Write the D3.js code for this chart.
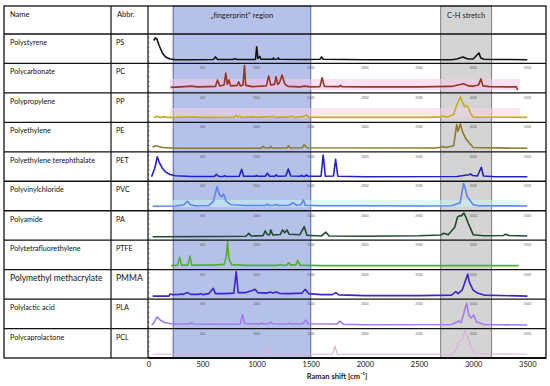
<!DOCTYPE html>
<html lang="en">
<head>
    <meta charset="UTF-8">
    <style>
        body {margin: 0; background: #ffffff;}
        text {font-family: Lato, "Open Sans", sans-serif;}
    </style>
</head>
<body>
<div id="chart"></div>

<script src="https://d3js.org/d3.v7.min.js"></script>
<script>

// table rows
var names = ["Polystyrene", "Polycarbonate", "Polypropylene", "Polyethylene",
    "Polyethylene terephthalate", "Polyvinylchloride", "Polyamide",
    "Polytetrafluorethylene", "Polymethyl methacrylate", "Polylactic acid", "Polycaprolactone"];
var abbrs = ["PS", "PC", "PP", "PE", "PET", "PVC", "PA", "PTFE", "PMMA", "PLA", "PCL"];
var colors = ["#111111", "#9a3324", "#c2ae1c", "#8c7a2c", "#2222c4", "#5a86ee",
    "#1f4a30", "#52ae2c", "#3d22d2", "#a07cf0", "#dcaedc"];

// spectra: [Raman shift, intensity 0-100]
var ps = [[50,80],[65,90],[80,86],[100,60],[130,30],[160,14],[200,6],[250,3],[400,3],[600,4],[620,14],[640,4],
    [780,4],[800,7],[820,4],[990,4],[1001,55],[1012,8],[1030,16],[1040,5],[1150,5],[1155,10],[1160,5],[1195,6],
    [1200,10],[1210,5],[1450,4],[1585,5],[1600,14],[1615,5],[2000,3],[2800,3],[2850,6],[2905,14],[2950,6],
    [3000,6],[3054,30],[3070,10],[3100,5],[3200,4],[3500,3]];
var pc = [[205,10],[300,12],[400,15],[450,12],[560,13],[620,14],[640,40],[660,16],[700,20],[715,67],[730,22],
    [745,40],[760,16],[820,18],[835,32],[850,16],[875,20],[888,97],[900,18],[960,13],[1090,16],[1112,56],
    [1130,20],[1165,22],[1180,53],[1195,22],[1210,28],[1235,60],[1260,24],[1290,14],[1400,12],[1440,15],
    [1500,12],[1585,13],[1605,49],[1625,14],[1760,13],[1775,18],[1790,13],[2000,12],[2500,12],[2800,14],
    [2880,22],[2910,25],[2960,16],[3000,15],[3050,20],[3072,44],[3090,16],[3150,13],[3400,12],[3410,0]];
var pp = [[50,8],[80,12],[110,7],[140,11],[170,8],[250,8],[400,10],[500,8],[790,9],[810,16],[830,10],[845,14],
    [860,8],[970,10],[1000,8],[1150,11],[1170,8],[1300,10],[1330,13],[1350,8],[1440,12],[1460,18],[1480,9],
    [1600,8],[2600,8],[2700,10],[2720,13],[2760,9],[2820,20],[2850,60],[2882,90],[2900,70],[2920,50],
    [2935,56],[2955,48],[2975,25],[3000,9],[3500,8]];
var pe = [[40,6],[60,12],[90,10],[130,5],[250,2],[1040,2],[1060,10],[1080,3],[1120,3],[1130,9],[1145,3],
    [1280,3],[1295,13],[1310,3],[1420,4],[1440,16],[1465,4],[2650,3],[2700,6],[2720,9],[2750,5],[2820,12],
    [2848,97],[2860,70],[2882,100],[2900,70],[2930,42],[2960,25],[3000,5],[3500,2]];
var pet = [[30,6],[60,40],[83,86],[100,65],[130,40],[160,25],[200,15],[250,10],[400,7],[610,7],[630,16],
    [650,7],[690,7],[705,10],[720,7],[840,8],[862,36],[880,8],[990,8],[1000,11],[1010,8],[1080,8],[1100,20],
    [1120,8],[1170,8],[1180,14],[1195,8],[1270,9],[1293,37],[1315,9],[1400,8],[1412,12],[1425,8],[1450,8],
    [1460,14],[1475,8],[1595,8],[1615,93],[1635,8],[1710,9],[1730,76],[1750,8],[2000,6],[2850,7],[2960,14],
    [2975,17],[2995,11],[3040,9],[3075,44],[3095,9],[3200,6],[3500,6]];
var pvc = [[40,6],[250,7],[330,12],[360,26],[390,12],[430,8],[560,9],[600,24],[635,84],[660,50],[680,44],
    [695,55],[720,25],[760,12],[900,9],[1080,9],[1100,14],[1120,9],[1160,10],[1180,13],[1200,9],[1300,10],
    [1335,20],[1370,10],[1410,12],[1432,31],[1450,10],[1600,8],[2000,8],[2500,7],[2800,8],[2880,20],
    [2900,70],[2912,97],[2925,80],[2945,45],[2970,30],[3000,12],[3050,8],[3500,7]];
var pa = [[40,2],[600,3],[900,4],[930,15],[950,5],[1060,6],[1080,25],[1100,10],[1120,10],[1130,29],[1150,9],
    [1220,11],[1240,29],[1260,18],[1280,29],[1300,12],[1400,10],[1440,42],[1465,8],[1600,5],[1640,20],
    [1670,5],[2000,4],[2500,6],[2700,9],[2730,16],[2770,10],[2830,40],[2855,80],[2875,86],[2890,85],
    [2915,96],[2935,78],[2960,50],[3000,10],[3100,6],[3280,7],[3300,12],[3330,7],[3500,5]];
var ptfe = [[210,4],[270,6],[290,37],[305,6],[365,6],[385,42],[400,6],[600,6],[700,9],[720,40],[732,100],
    [745,30],[770,8],[900,5],[1200,5],[1215,9],[1230,5],[1280,6],[1295,16],[1315,6],[1365,8],[1380,26],
    [1400,6],[1600,4],[3420,4]];
var pmma = [[40,0],[190,0],[200,8],[220,6],[290,7],[300,9],[320,6],[350,12],[365,14],[390,7],[470,7],[485,10],
    [500,6],[560,10],[600,31],[620,10],[700,10],[790,12],[812,98],[830,14],[900,14],[960,22],[985,27],
    [1010,14],[1100,12],[1125,16],[1150,12],[1180,16],[1210,11],[1300,10],[1420,12],[1450,27],[1480,10],
    [1600,6],[1700,6],[1730,14],[1760,5],[2000,2],[2500,2],[2800,4],[2840,18],[2860,10],[2900,25],[2950,88],
    [2965,55],[3000,24],[3040,12],[3100,4],[3500,0]];
var pla = [[30,2],[50,10],[80,35],[110,22],[150,12],[200,8],[250,6],[380,6],[400,12],[420,6],[700,5],[850,6],
    [870,45],[890,8],[1030,6],[1045,10],[1060,6],[1110,7],[1130,14],[1150,7],[1280,6],[1300,9],[1320,6],
    [1430,8],[1455,22],[1475,7],[1740,6],[1770,18],[1800,5],[2000,3],[2800,4],[2870,18],[2890,12],[2940,90],
    [2960,40],[2980,30],[3005,42],[3030,15],[3100,4],[3500,2]];
var pcl = [[40,3],[1080,3],[1100,30],[1120,3],[1700,3],[1725,35],[1745,3],[2800,3],[2840,20],[2870,55],
    [2900,60],[2925,100],[2950,70],[2980,30],[3020,5],[3500,3]];
var spectra = [ps, pc, pp, pe, pet, pvc, pa, ptfe, pmma, pla, pcl];

var xTicks = [0, 500, 1000, 1500, 2000, 2500, 3000, 3500];
var fingerprint = [230, 1500];
var chStretch = [2700, 3170];

// layout of the table
var W = 550, H = 386;
var tLeft = 4, tRight = 546, tTop = 6, tBottom = 358;
var headBottom = 34, colAbbr = 111, colChart = 148;
var rowH = (tBottom - headBottom) / names.length;

var svg = d3.select("#chart").append("svg")
    .attr("width", W)
    .attr("height", H);

var x = d3.scaleLinear().domain([0, 3500]).range([148.3, 527.3]);

// highlighted regions
svg.append("rect")
    .attr("x", x(fingerprint[0])).attr("y", tTop)
    .attr("width", x(fingerprint[1]) - x(fingerprint[0])).attr("height", tBottom - tTop)
    .attr("fill", "#b5c1e9").attr("stroke", "#4e66a6").attr("stroke-width", 1);
svg.append("rect")
    .attr("x", x(chStretch[0])).attr("y", tTop)
    .attr("width", x(chStretch[1]) - x(chStretch[0])).attr("height", tBottom - tTop)
    .attr("fill", "#d4d4d4").attr("stroke", "#7c7c7c").attr("stroke-width", 1);

svg.append("text")
    .attr("x", (x(fingerprint[0]) + x(fingerprint[1])) / 2).attr("y", 18)
    .attr("text-anchor", "middle").attr("font-size", 7.5).attr("fill", "#222")
    .text("\u201Efingerprint\u201C region");
svg.append("text")
    .attr("x", (x(chStretch[0]) + x(chStretch[1])) / 2).attr("y", 18)
    .attr("text-anchor", "middle").attr("font-size", 7.5).attr("fill", "#222")
    .text("C-H stretch");

// faint colour bands behind some traces (as in the scanned figure)
var bands = [{c: "#f7c9ea", y0: 79, y1: 90},
    {c: "#f5d2e6", y0: 108, y1: 118},
    {c: "#c9f3f6", y0: 200, y1: 207}];
bands.forEach(function (b) {
    svg.append("rect")
        .attr("x", 170).attr("y", b.y0)
        .attr("width", 350).attr("height", b.y1 - b.y0)
        .attr("fill", b.c).attr("opacity", 0.55);
});

// spectra, one per row
spectra.forEach(function (data, i) {
    var top = headBottom + i * rowH;
    var bottom = top + rowH;
    var y = d3.scaleLinear().domain([0, 100]).range([bottom - 3, bottom - 28]);

    var line = d3.line()
        .x(function (d) { return x(d[0]); })
        .y(function (d) { return y(d[1]); });

    svg.append("path")
        .datum(data)
        .attr("d", line)
        .attr("fill", "none")
        .attr("stroke", colors[i])
        .attr("stroke-width", i == 10 ? 1.1 : 1.6)
        .attr("stroke-linejoin", "round");

    // small left axis
    svg.append("g")
        .attr("transform", "translate(" + colChart + ",0)")
        .call(d3.axisRight(d3.scaleLinear().domain([0, 5]).range([bottom - 2, top + 3]))
            .ticks(5).tickSize(1.5).tickFormat(""))
        .call(function (g) { g.select(".domain").remove(); })
        .selectAll("line").attr("stroke", "#333").attr("stroke-width", 0.6);

    // tiny tick labels under the row line
    if (i > 0) {
        svg.append("g").selectAll("text")
            .data(xTicks.slice(1))
            .enter().append("text")
            .attr("x", function (d) { return x(d); })
            .attr("y", top + 6)
            .attr("text-anchor", "middle")
            .attr("font-size", 3.2)
            .attr("fill", "#666")
            .text(function (d) { return d; });
    }
});

// table lines
var rowLines = d3.range(names.length).map(function (i) { return headBottom + i * rowH; });
svg.append("g").selectAll("line")
    .data(rowLines)
    .enter().append("line")
    .attr("x1", tLeft).attr("x2", tRight)
    .attr("y1", function (d) { return d; }).attr("y2", function (d) { return d; })
    .attr("stroke", "#111").attr("stroke-width", 1.3);
[colAbbr, colChart].forEach(function (cx) {
    svg.append("line")
        .attr("x1", cx).attr("x2", cx).attr("y1", tTop).attr("y2", tBottom)
        .attr("stroke", "#111").attr("stroke-width", 1.2);
});
svg.append("rect")
    .attr("x", tLeft).attr("y", tTop)
    .attr("width", tRight - tLeft).attr("height", tBottom - tTop)
    .attr("fill", "none").attr("stroke", "#111").attr("stroke-width", 1.3);

// header text
svg.append("text").attr("x", 10).attr("y", 17).attr("font-size", 7.5).attr("fill", "#111").text("Name");
svg.append("text").attr("x", 117).attr("y", 17).attr("font-size", 7.5).attr("fill", "#111").text("Abbr.");

// names and abbreviations
names.forEach(function (n, i) {
    var top = headBottom + i * rowH;
    var fs = i == 8 ? 8.5 : 7.2;
    svg.append("text").attr("x", 10).attr("y", top + 11).attr("font-size", fs).attr("fill", "#111").text(n);
    svg.append("text").attr("x", 116).attr("y", top + 11).attr("font-size", fs).attr("fill", "#111").text(abbrs[i]);
});

// main x axis
var xAxis = svg.append("g")
    .attr("transform", "translate(0," + tBottom + ")")
    .call(d3.axisBottom(x).tickValues(xTicks).tickSize(0).tickPadding(4).tickFormat(d3.format("d")));
xAxis.select(".domain").remove();
xAxis.selectAll("text").attr("font-size", 7.5).attr("fill", "#111")
    .attr("font-family", "Liberation Sans, Arial, sans-serif");
svg.append("line")
    .attr("x1", colChart).attr("x2", tRight).attr("y1", tBottom).attr("y2", tBottom)
    .attr("stroke", "#111").attr("stroke-width", 1.8);

svg.append("text")
    .attr("x", 337).attr("y", 379)
    .attr("text-anchor", "middle")
    .attr("font-size", 7.5)
    .attr("font-weight", "bold")
    .attr("font-family", "Liberation Sans, Arial, sans-serif")
    .attr("fill", "#222")
    .text("Raman shift [cm\u207B\u00B9]");

</script>
</body>
</html>
